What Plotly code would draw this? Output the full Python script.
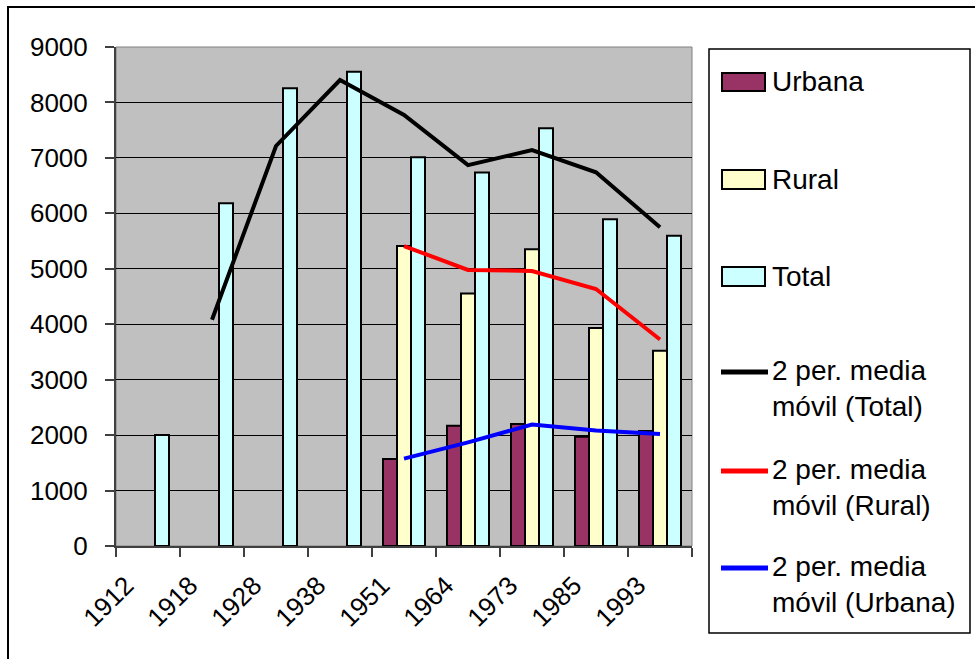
import plotly.graph_objects as go

# ---------------- data ----------------
years = ["1912", "1918", "1928", "1938", "1951", "1964", "1973", "1985", "1993"]
urbana = [None, None, None, None, 1570, 2170, 2200, 1970, 2075]
rural = [None, None, None, None, 5410, 4555, 5350, 3930, 3520]
total = [2000, 6180, 8255, 8555, 7010, 6735, 7535, 5895, 5595]
ma_total = [None, 4080, 7215, 8405, 7775, 6870, 7140, 6740, 5750]
ma_rural = [None, None, None, None, 5410, 4980, 4960, 4635, 3725]
ma_urbana = [None, None, None, None, 1575, 1870, 2190, 2085, 2020]

bar_names = ["Urbana", "Rural", "Total"]
line_names = ["2 per. media<br>móvil (Total)", "2 per. media<br>móvil (Rural)",
              "2 per. media<br>móvil (Urbana)"]
y_ticks = [0, 1000, 2000, 3000, 4000, 5000, 6000, 7000, 8000, 9000]

bar_colors = ["#993366", "#FFFFCC", "#CCFFFF"]
line_colors = ["#000000", "#FF0000", "#0000FF"]

FONT = "Liberation Sans, Arial, sans-serif"

W, H = 975, 659
L, R, T, B = 116, 692, 47, 546


def px(x):
    return (x - L) / (R - L)


def py(y):
    return (B - y) / (B - T)


fig = go.Figure()
for name, vals, col in zip(bar_names, [urbana, rural, total], bar_colors):
    fig.add_trace(go.Bar(x=years, y=vals, name=name, marker=dict(color=col, line=dict(color="black", width=2)),
                         showlegend=False))
for name, vals, col in zip(line_names, [ma_total, ma_rural, ma_urbana], line_colors):
    fig.add_trace(go.Scatter(x=years, y=vals, name=name, mode="lines",
                             line=dict(color=col, width=4), showlegend=False))

shapes = []
annotations = []
# plot-area border (right / top)
shapes.append(dict(type="rect", xref="paper", yref="paper", x0=0, x1=1, y0=0, y1=1,
                   line=dict(color="#808080", width=1), layer="below"))
# outer chart border
shapes.append(dict(type="rect", xref="paper", yref="paper", x0=px(8), x1=px(990), y0=py(7), y1=py(680),
                   line=dict(color="black", width=2)))
# legend box
shapes.append(dict(type="rect", xref="paper", yref="paper", x0=px(709), x1=px(970), y0=py(49), y1=py(633),
                   line=dict(color="black", width=1.5), fillcolor="white"))

swatch_y = [(73, 91), (170, 189), (267, 286)]
text_y_bars = [82, 179, 276]
for (y0, y1), col, name, ty in zip(swatch_y, bar_colors, bar_names, text_y_bars):
    shapes.append(dict(type="rect", xref="paper", yref="paper", x0=px(722), x1=px(765), y0=py(y1), y1=py(y0),
                       line=dict(color="black", width=2), fillcolor=col))
    annotations.append(dict(xref="paper", yref="paper", x=px(770), y=py(ty), text=name, showarrow=False,
                            xanchor="left", yanchor="middle", align="left",
                            font=dict(family=FONT, size=28, color="black")))

line_y = [372, 471, 568]
for ly, col, name in zip(line_y, line_colors, line_names):
    shapes.append(dict(type="line", xref="paper", yref="paper", x0=px(721), x1=px(768), y0=py(ly), y1=py(ly),
                       line=dict(color=col, width=5)))
    annotations.append(dict(xref="paper", yref="paper", x=px(770), y=py(ly - 19), text=name, showarrow=False,
                            xanchor="left", yanchor="top", align="left",
                            font=dict(family=FONT, size=28, color="black")))

fig.update_layout(
    width=W, height=H,
    margin=dict(l=L, r=W - R, t=T, b=H - B, pad=0),
    paper_bgcolor="white",
    plot_bgcolor="#C0C0C0",
    barmode="group",
    bargap=0.34375,
    bargroupgap=0,
    font=dict(family=FONT, size=26, color="black"),
    shapes=shapes,
    annotations=annotations,
    xaxis=dict(type="category", tickson="boundaries", ticks="outside", ticklen=9, tickwidth=2,
               tickcolor="#404040", showline=True, linecolor="#404040", linewidth=2,
               showgrid=False, tickangle=-45, tickfont=dict(family=FONT, size=26, color="black"),
               ticklabelshift=-22, ticklabelstandoff=12),
    yaxis=dict(range=[0, 9000], tickvals=y_ticks, ticks="outside", ticklen=9, tickwidth=2,
               tickcolor="#404040", showline=True, linecolor="#404040", linewidth=2,
               showgrid=True, gridcolor="black", gridwidth=1, zeroline=False,
               tickfont=dict(family=FONT, size=26, color="black"), ticklabelstandoff=12),
)

fig.write_html("out.html", config={"displayModeBar": False},
               post_script="document.body.style.margin='0';document.body.style.overflow='hidden';")
